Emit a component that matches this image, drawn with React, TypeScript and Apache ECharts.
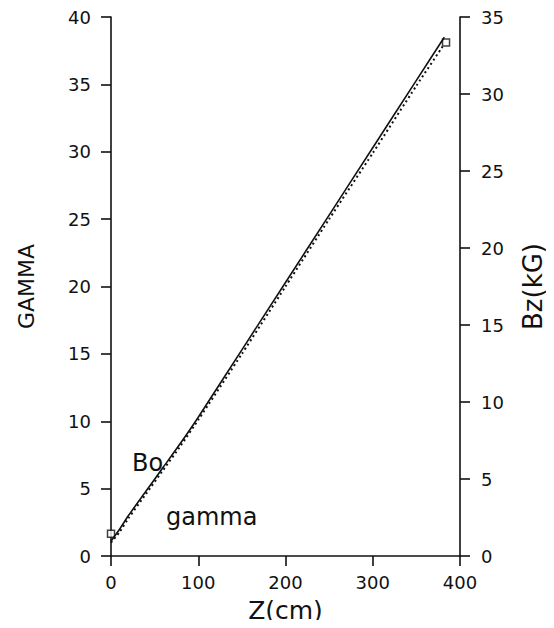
import React, { useEffect, useRef } from "react";
import * as echarts from "echarts";

// Z positions (cm)
const zSolid = [0, 10, 20, 40, 60, 80, 100, 150, 200, 250, 300, 350, 382];
// Bo (solid), in GAMMA-axis units
const boValues = [1.1, 2.0, 3.0, 4.8, 6.6, 8.4, 10.3, 15.3, 20.3, 25.3, 30.3, 35.3, 38.5];
const zDotted = [0, 10, 20, 40, 60, 80, 100, 150, 200, 250, 300, 350, 380];
// gamma (dotted)
const gammaValues = [1.0, 1.8, 2.8, 4.6, 6.4, 8.2, 10.1, 15.0, 20.0, 25.0, 29.9, 34.9, 37.8];
// square markers
const markerZ = [0, 384];
const markerGamma = [1.65, 38.1];

const FONT = "DejaVu Sans";

export default function App() {
  const ref = useRef<HTMLDivElement>(null);
  useEffect(() => {
    if (!ref.current) return;
    const chart = echarts.init(ref.current, null, { renderer: "svg" });
    const axisCommon = {
      axisLine: { show: true, onZero: false, lineStyle: { color: "#111", width: 1.6 } },
      axisTick: { show: true, inside: false, length: 10, lineStyle: { color: "#111", width: 1.6 } },
      splitLine: { show: false },
    };
    chart.setOption({
      animation: false,
      backgroundColor: "#fff",
      grid: { left: 111, right: 94, top: 17, bottom: 68 },
      xAxis: {
        type: "value",
        min: 0,
        max: 400,
        interval: 100,
        name: "Z(cm)",
        nameLocation: "middle",
        nameGap: 42,
        ...axisCommon,
        nameTextStyle: { color: "#111", fontFamily: FONT, fontSize: 25 },
        axisLabel: { color: "#111", fontFamily: FONT, fontSize: 18, margin: 17 },
      },
      yAxis: [
        {
          type: "value",
          position: "left",
          min: 0,
          max: 40,
          interval: 5,
          name: "GAMMA",
          nameLocation: "middle",
          nameRotate: 90,
          nameGap: 74,
          ...axisCommon,
          nameTextStyle: { color: "#111", fontFamily: FONT, fontSize: 22 },
          axisLabel: { color: "#111", fontFamily: FONT, fontSize: 18, margin: 20 },
        },
        {
          type: "value",
          position: "right",
          min: 0,
          max: 35,
          interval: 5,
          name: "Bz(kG)",
          nameLocation: "middle",
          nameRotate: 90,
          nameGap: 60,
          ...axisCommon,
          nameTextStyle: { color: "#111", fontFamily: FONT, fontSize: 26 },
          axisLabel: { color: "#111", fontFamily: FONT, fontSize: 18, margin: 21 },
        },
      ],
      series: [
        {
          type: "line",
          name: "Bo",
          yAxisIndex: 0,
          data: zSolid.map((z, i) => [z, boValues[i]]),
          showSymbol: false,
          smooth: 0.2,
          lineStyle: { color: "#111", width: 1.6 },
        },
        {
          type: "line",
          name: "gamma",
          yAxisIndex: 0,
          data: zDotted.map((z, i) => [z, gammaValues[i]]),
          showSymbol: false,
          smooth: 0.2,
          lineStyle: { color: "#111", width: 2, type: [2, 3] },
        },
        {
          type: "scatter",
          yAxisIndex: 0,
          data: markerZ.map((z, i) => [z, markerGamma[i]]),
          symbol: "rect",
          symbolSize: 7,
          itemStyle: { color: "#fff", borderColor: "#111", borderWidth: 1.5 },
        },
      ],
      graphic: [
        {
          type: "text",
          left: 132,
          top: 451,
          style: { text: "Bo", font: `24px "${FONT}"`, fill: "#111" },
        },
        {
          type: "text",
          left: 166,
          top: 505,
          style: { text: "gamma", font: `24px "${FONT}"`, fill: "#111" },
        },
      ],
    });
    return () => chart.dispose();
  }, []);
  return <div ref={ref} style={{ width: 554, height: 628, margin: -8 }} />;
}
